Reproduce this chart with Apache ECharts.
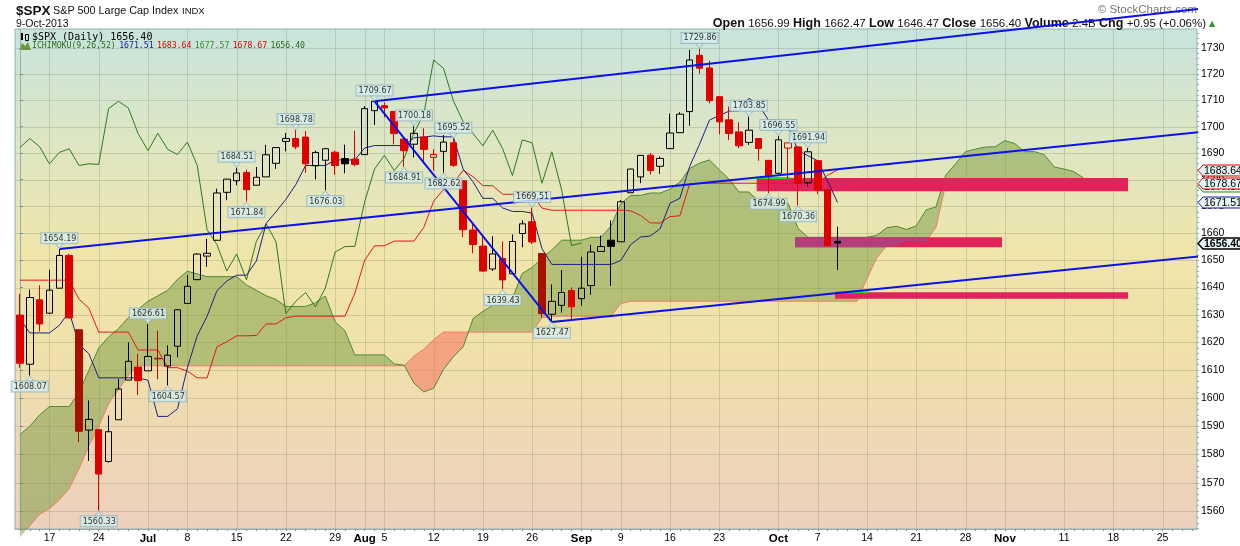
<!DOCTYPE html>
<html><head><meta charset="utf-8">
<script src="https://cdn.jsdelivr.net/npm/echarts@6/dist/echarts.min.js"></script>
<style>html,body{margin:0;padding:0;background:#fff}#c{width:1240px;height:546px}</style>
</head><body><div id="c"></div>
<script>
// ---------------- DATA ----------------
const holidays = ['2013-07-04', '2013-09-02', '2013-11-28'];
const prevClose = 1626.13;
const O = [1629.94,1612.15,1635.52,1630.64,1639.77,1651.83,1624.62,1588.62,1588.77,1577.52,
1592.27,1606.44,1611.12,1609.78,1614.29,1611.48,1618.65,1634.20,1642.89,1651.56,
1657.41,1675.26,1679.59,1682.70,1677.91,1681.05,1686.15,1694.41,1695.53,1696.06,
1685.21,1687.31,1690.32,1687.92,1687.76,1689.42,1706.10,1708.01,1705.79,1695.30,
1693.35,1696.10,1688.37,1690.65,1693.88,1679.61,1661.22,1655.25,1646.81,1650.66,
1645.03,1659.92,1664.29,1652.54,1630.25,1633.50,1638.89,1635.95,1640.72,1653.28,
1657.44,1656.85,1675.11,1681.04,1689.21,1685.04,1691.70,1697.73,1705.74,1727.34,
1722.44,1711.44,1702.60,1698.02,1694.05,1695.52,1687.26,1682.41,1691.90,1692.35,
1678.79,1687.15,1676.22,1656.99];
const H = [1637.71,1639.25,1640.80,1646.50,1654.19,1652.45,1624.62,1599.19,1588.77,1593.79,
1606.83,1620.07,1615.94,1626.61,1624.26,1618.97,1632.07,1644.68,1652.62,1657.92,
1676.63,1680.19,1684.51,1683.73,1684.75,1693.12,1692.09,1697.61,1698.78,1698.38,
1690.94,1691.85,1690.92,1693.19,1698.43,1707.85,1709.67,1709.24,1705.79,1695.30,
1700.18,1699.42,1691.49,1696.81,1695.52,1679.61,1663.60,1659.18,1658.92,1656.99,
1659.55,1664.85,1669.51,1652.54,1641.18,1646.41,1640.08,1651.35,1655.72,1659.17,
1664.83,1672.40,1684.09,1689.13,1689.97,1688.73,1704.95,1705.52,1729.44,1729.86,
1725.23,1711.44,1707.63,1701.71,1703.85,1695.52,1687.26,1696.55,1693.87,1692.35,
1691.94,1687.15,1676.79,1662.47];
const Lo = [1610.92,1608.07,1623.96,1630.34,1639.77,1628.91,1584.32,1577.70,1560.33,1577.09,
1592.27,1606.44,1601.06,1609.78,1606.77,1604.57,1614.71,1634.20,1642.89,1647.66,
1657.41,1672.33,1677.89,1671.84,1677.91,1681.05,1684.08,1690.67,1691.45,1682.57,
1680.07,1676.03,1681.86,1682.42,1684.94,1689.42,1700.68,1703.55,1693.29,1684.91,
1688.38,1686.02,1683.35,1682.62,1684.83,1658.59,1652.61,1645.84,1646.08,1639.43,
1645.03,1654.81,1656.02,1629.05,1627.47,1630.88,1628.05,1633.41,1637.41,1653.07,
1640.62,1656.85,1675.11,1678.70,1681.96,1682.22,1691.70,1697.73,1700.35,1720.20,
1708.89,1697.10,1694.90,1691.88,1693.11,1687.11,1674.99,1682.07,1680.34,1670.36,
1677.33,1674.70,1655.03,1646.47];
const C = [1612.52,1636.36,1626.73,1639.04,1651.81,1628.93,1588.19,1592.43,1573.09,1588.03,
1603.26,1613.20,1606.28,1614.96,1614.08,1615.41,1631.89,1640.46,1652.32,1652.62,
1675.02,1680.19,1682.50,1676.26,1680.91,1689.37,1692.09,1695.53,1692.39,1685.94,
1690.25,1691.65,1685.33,1685.96,1685.73,1706.87,1709.67,1707.14,1697.37,1690.91,
1697.48,1691.42,1689.47,1694.16,1685.39,1661.32,1655.83,1646.06,1652.35,1642.80,
1656.96,1663.50,1656.78,1630.48,1634.96,1638.17,1632.97,1639.77,1653.08,1655.08,
1655.17,1671.71,1683.99,1689.13,1683.42,1687.99,1697.60,1704.76,1725.52,1722.34,
1709.91,1701.84,1697.42,1692.77,1698.67,1691.75,1681.55,1695.00,1693.87,1678.66,
1690.50,1676.12,1655.45,1656.40];
const darkRed = [6, 14, 53];

const tenkan = [1628.61,1623.46,1623.46,1623.46,1626.21,1631.13,1619.26,1615.95,1607.26,1607.26,
1607.26,1607.26,1607.26,1606.39,1593.47,1593.47,1596.20,1610.89,1622.45,1629.49,
1638.85,1642.38,1644.54,1644.54,1649.73,1663.66,1668.01,1672.64,1678.10,1685.31,
1685.31,1685.31,1687.41,1687.41,1687.41,1691.94,1692.85,1692.85,1692.85,1692.85,
1695.77,1696.05,1696.51,1696.15,1696.15,1683.92,1679.20,1673.01,1673.01,1669.43,
1668.12,1668.12,1667.48,1654.33,1648.49,1648.49,1648.49,1648.49,1648.49,1648.49,
1648.49,1649.94,1655.78,1658.59,1659.01,1661.69,1671.18,1673.07,1685.03,1693.36,
1702.49,1704.28,1705.91,1706.04,1710.78,1708.49,1702.43,1702.43,1700.11,1690.90,
1689.00,1687.11,1679.44,1671.51];
const kijun = [1642.71,1642.71,1642.71,1642.71,1642.71,1642.71,1635.75,1632.44,1623.76,1623.76,
1623.76,1623.76,1617.27,1617.27,1617.27,1610.92,1610.92,1609.66,1607.26,1607.26,
1618.48,1620.26,1622.42,1622.42,1622.54,1626.73,1626.73,1628.97,1629.56,1629.56,
1629.56,1629.56,1629.56,1629.56,1637.94,1650.06,1655.37,1655.37,1657.12,1657.12,
1657.12,1662.19,1671.94,1676.28,1678.67,1683.54,1681.14,1677.76,1677.76,1674.55,
1674.55,1674.55,1674.55,1669.36,1668.57,1668.57,1668.57,1668.57,1668.57,1668.57,
1668.57,1668.57,1668.36,1666.63,1663.83,1663.83,1666.21,1666.50,1678.46,1678.67,
1678.67,1678.67,1678.67,1678.67,1678.67,1678.67,1678.67,1678.67,1678.67,1678.67,
1678.96,1678.96,1681.64,1683.64];
const spanA = [1587,1590,1594,1597,1597,1597,1602,1610,1618,1622,
1625,1629,1632,1635,1637,1639,1643,1646,1645,1644,
1644,1644,1644,1641,1639,1637,
1635.66,1633.09,1633.09,1633.09,1634.46,1636.92,1627.51,1624.20,1615.51,1615.51,
1615.51,1615.51,1612.27,1611.83,1605.37,1602.19,1603.55,1610.28,1614.86,1618.38,
1628.67,1631.32,1633.48,1633.48,1636.14,1645.20,1647.37,1650.81,1653.83,1657.44,
1657.44,1657.44,1658.49,1658.49,1662.68,1671.00,1674.11,1674.11,1674.99,1674.99,
1676.45,1679.12,1684.23,1686.22,1687.41,1683.73,1680.17,1675.39,1675.39,1671.99,
1671.34,1671.34,1671.02,1661.85,1658.53,1658.53,1658.53,1658.53,1658.53,1658.53,
1658.53,1659.26,1662.07,1662.61,1661.42,1662.76,1668.70,1669.79,1681.75,1686.02,
1690.58,1691.48,1692.29,1692.36,1694.73,1693.58,1690.55,1690.55,1689.39,1684.79,
1683.98,1683.04,1680.54,1677.58];
const spanB = [1551,1555,1559,1561,1564,1568,1575,1583,1590,1598,1603,1608,
1611.6,1611.6,1611.6,1611.6,1611.6,1611.6,1611.6,1611.6,1611.6,1611.6,
1611.6,1611.6,1611.6,1611.6,1611.6,1611.6,1611.6,1611.6,1611.6,1611.6,
1611.6,1611.6,1611.6,1611.6,1611.6,1611.6,1611.6,1611.6,
1615.0,1617.6,1621.0,
1623.76,1623.76,1623.76,1623.76,1623.76,1623.76,1623.76,1623.76,1623.76,1623.76,
1628.97,1629.56,1629.56,1629.56,1629.56,1629.56,1629.56,1629.56,1634.09,
1635.0,1635.0,1635.0,1635.0,1635.0,1635.0,1635.0,1635.0,1635.0,1635.0,1635.0,1635.0,
1635.0,1635.0,1635.0,1635.0,1635.0,1635.0,1635.0,1635.0,1635.0,1635.0,1635.0,1635.0,
1643.38,1650.97,1655.37,1655.37,1657.12,1657.12,1657.12,1662.19,1678.46,
1678.67,1678.67,1678.67,1678.67,1678.67,1678.67,1678.67,1678.67,1678.67,1678.67,
1678.67,1678.67,1678.67,1678.67,1678.67];
const chikouShift = 26;

const hiLabels = [[4,1654.19],[13,1626.61],[22,1684.51],[28,1698.78],[36,1709.67],[40,1700.18],
  [44,1695.52],[52,1669.51],[69,1729.86],[74,1703.85],[77,1696.55],[80,1691.94]];
const loLabels = [[1,1608.07],[8,1560.33],[15,1604.57],[23,1671.84],[31,1676.03],[39,1684.91],
  [43,1682.62],[49,1639.43],[54,1627.47],[76,1674.99],[79,1670.36]];

// trend lines: [[idx, price], [idx, price]]
const trendLines = [
  [[36, 1709.67], [123.9, 1747.1]],
  [[4, 1654.19], [123.9, 1699.5]],
  [[54, 1627.47], [123.9, 1653.0]],
  [[36, 1709.67], [54, 1627.47]]
];
// zones: [startIdx, endIdx, low, high, tintWhereOverCloud]
const zones = [[74.8, 112.5, 1675.7, 1680.6, false], [78.7, 99.7, 1654.8, 1658.5, true], [82.75, 112.5, 1635.9, 1638.3, false]];
const zoneEdges = [[74.8, 78.2, 1680.6], [82.75, 86.2, 1638.3]];

const tagVals = [1677.57, 1683.64, 1678.67, 1671.51, 1656.40];
const tagColors = ['#2a8a2a', '#e00000', '#e00000', '#1a1aa0', '#000000'];

const yTicks = [1560,1570,1580,1590,1600,1610,1620,1630,1640,1650,1660,1670,1680,1690,1700,1710,1720,1730];
const yMinor = [];
for (let v = 1554; v <= 1736; v += 2) yMinor.push(v);
const xTickIdx = [3,8,13,17,22,27,32,35,37,42,47,52,57,61,66,71,77,81,86,91,96,100,106,111,116];
const xTickText = ['17','24','Jul','8','15','22','29','Aug','5','12','19','26','Sep','9','16','23','Oct','7','14','21','28','Nov','11','18','25'];
const monthLabels = ['Jul','Aug','Sep','Oct','Nov'];

// ---------------- BUILD ----------------
const L = Math.log;
const categories = [];
for (let d = new Date(Date.UTC(2013, 5, 12)); categories.length < 120; d.setUTCDate(d.getUTCDate() + 1)) {
  const wd = d.getUTCDay(); const s = d.toISOString().slice(0, 10);
  if (wd === 0 || wd === 6 || holidays.includes(s)) continue;
  categories.push(s);
}
const tickMap = {};
xTickIdx.forEach((i, k) => tickMap[i] = xTickText[k]);

const candleData = O.map((o, i) => {
  const c = C[i];
  const pc = i === 0 ? prevClose : C[i - 1];
  const col = c >= pc ? '#000000' : (darkRed.includes(i) ? '#a81000' : '#e00000');
  const fill = c > o ? 'rgba(0,0,0,0)' : col;
  return {
    value: [L(o), L(c), L(Lo[i]), L(H[i])],
    itemStyle: { color: fill, color0: fill, borderColor: col, borderColor0: col, borderColorDoji: col, borderWidth: 1 }
  };
});
const lineOf = arr => arr.map(v => v == null ? null : L(v));
const chikou = C.slice(chikouShift).map(v => L(v));

const spanAL = spanA.map(L), spanBL = spanB.map(L);
function interp(arr, x) {
  const i = Math.max(0, Math.min(arr.length - 2, Math.floor(x)));
  const t = x - i;
  return arr[i] + (arr[i + 1] - arr[i]) * t;
}

const gridLineColor = 'rgba(90,110,90,0.22)';
function gridRender(params, api) {
  if (params.dataIndex !== 0) return;
  const cs = params.coordSys;
  const kids = [];
  yTicks.forEach(v => {
    const y = Math.round(api.coord([0, L(v)])[1]) + 0.5;
    kids.push({ type: 'line', shape: { x1: cs.x, y1: y, x2: cs.x + cs.width, y2: y }, style: { stroke: gridLineColor, lineWidth: 1 } });
  });
  xTickIdx.forEach(i => {
    const x = Math.round(api.coord([i, L(1600)])[0]) + 0.5;
    kids.push({ type: 'line', shape: { x1: x, y1: cs.y, x2: x, y2: cs.y + cs.height }, style: { stroke: gridLineColor, lineWidth: 1 } });
  });
  return { type: 'group', children: kids };
}

function cloudRender(params, api) {
  if (params.dataIndex !== 0) return;
  const A = spanAL, B = spanBL;
  const regions = [];
  let cur = [{ x: 0, a: A[0], b: B[0] }];
  for (let j = 0; j < A.length - 1; j++) {
    const d0 = A[j] - B[j], d1 = A[j + 1] - B[j + 1];
    if (d0 * d1 < 0) {
      const t = d0 / (d0 - d1);
      const y = A[j] + t * (A[j + 1] - A[j]);
      cur.push({ x: j + t, a: y, b: y });
      regions.push({ sign: Math.sign(d0), pts: cur });
      cur = [{ x: j + t, a: y, b: y }];
    }
    cur.push({ x: j + 1, a: A[j + 1], b: B[j + 1] });
  }
  regions.push({ sign: Math.sign(A[A.length - 1] - B[B.length - 1]) || 1, pts: cur });
  const children = regions.map(r => {
    const top = r.pts.map(p => api.coord([p.x, p.a]));
    const bot = r.pts.slice().reverse().map(p => api.coord([p.x, p.b]));
    return { type: 'polygon', shape: { points: top.concat(bot) },
      style: { fill: r.sign >= 0 ? 'rgba(112,150,58,0.47)' : 'rgba(246,120,96,0.58)' } };
  });
  return { type: 'group', children };
}

function zoneRender(params, api) {
  if (params.dataIndex !== 0) return;
  const kids = [];
  zones.forEach(z => {
    const lo = L(z[2]), hi = L(z[3]);
    const p0 = api.coord([z[0], hi]), p1 = api.coord([z[1], lo]);
    kids.push({ type: 'rect', shape: { x: p0[0], y: p0[1], width: p1[0] - p0[0], height: p1[1] - p0[1] },
      style: { fill: '#e2225a' } });
    if (z[4]) {
      // part of the zone that lies inside the (green) cloud
      let run = null; const runs = [];
      for (let x = z[0]; x <= z[1] + 1e-9; x += 0.05) {
        const a = interp(spanAL, x), b = interp(spanBL, x);
        const top = Math.min(hi, Math.max(a, b)), bot = Math.max(lo, Math.min(a, b));
        if (top > bot && a > b) {
          if (!run) { run = []; runs.push(run); }
          run.push([x, top, bot]);
        } else run = null;
      }
      runs.forEach(r => {
        const pts = r.map(p => api.coord([p[0], p[1]])).concat(r.slice().reverse().map(p => api.coord([p[0], p[2]])));
        kids.push({ type: 'polygon', shape: { points: pts }, style: { fill: '#b23e7c' } });
      });
    }
  });
  zoneEdges.forEach(e => {
    const p0 = api.coord([e[0], L(e[2])]), p1 = api.coord([e[1], L(e[2])]);
    kids.push({ type: 'line', shape: { x1: p0[0], y1: p0[1], x2: p1[0], y2: p1[1] }, style: { stroke: '#22dd22', lineWidth: 2 } });
  });
  return { type: 'group', children: kids };
}

function tagRender(params, api) {
  const i = params.dataIndex;
  const p = api.coord([119.5, L(tagVals[i])]);
  const x = p[0] + 1, y = Math.round(p[1]) + 0.5;
  const w = 43, h = 11;
  const bold = i === 4;
  return { type: 'group', children: [
    { type: 'polygon', shape: { points: [[x, y], [x + 5, y - h / 2], [x + w, y - h / 2], [x + w, y + h / 2], [x + 5, y + h / 2]] },
      style: { fill: bold ? '#e6f6f6' : '#e4f4f4', stroke: tagColors[i], lineWidth: bold ? 1.5 : 1 } },
    { type: 'text', style: { text: tagVals[i].toFixed(2), x: x + 6, y: y + 0.5, verticalAlign: 'middle', fontSize: 10.5,
      fontFamily: 'Liberation Sans', fontWeight: bold ? 'bold' : 'normal', fill: '#000' } }
  ] };
}

const labelStyle = {
  show: true, formatter: '{b}', fontSize: 8, fontFamily: 'DejaVu Sans', color: '#000',
  backgroundColor: '#d6eeee', borderColor: '#93b4bc', borderWidth: 1, padding: [1, 1, 0, 2], lineHeight: 9, distance: 0
};

const bg = new echarts.graphic.LinearGradient(0, 0, 0, 1, [
  { offset: 0, color: '#c8e4dc' }, { offset: 0.22, color: '#dde6c4' }, { offset: 0.45, color: '#efe5aa' },
  { offset: 0.62, color: '#f0e2aa' }, { offset: 1, color: '#ecd0bd' }
]);

const series = [
  { type: 'custom', name: 'grid', xAxisIndex: 1, yAxisIndex: 0, renderItem: gridRender, data: [[0, L(1600)]], z: 1, silent: true },
  { type: 'custom', name: 'cloud', xAxisIndex: 1, yAxisIndex: 0, renderItem: cloudRender, data: [[0, L(1600)]], z: 2, silent: true },
  { type: 'line', name: 'spanB', xAxisIndex: 0, data: lineOf(spanB), symbol: 'none', lineStyle: { color: '#f27a66', width: 1 }, z: 3 },
  { type: 'line', name: 'spanA', xAxisIndex: 0, data: lineOf(spanA), symbol: 'none', lineStyle: { color: '#4e8a34', width: 1 }, z: 3 },
  { type: 'custom', name: 'zones', xAxisIndex: 1, yAxisIndex: 0, renderItem: zoneRender, data: [[0, L(1600)]], z: 4, silent: true },
  { type: 'line', name: 'chikou', xAxisIndex: 0, data: chikou, symbol: 'none', lineStyle: { color: '#2c7a22', width: 1 }, z: 5 },
  { type: 'line', name: 'kijun', xAxisIndex: 0, data: lineOf(kijun), symbol: 'none', lineStyle: { color: '#e81818', width: 1 }, z: 5 },
  { type: 'line', name: 'tenkan', xAxisIndex: 0, data: lineOf(tenkan), symbol: 'none', lineStyle: { color: '#1e1e8c', width: 1 }, z: 5 },
  { type: 'candlestick', name: 'SPX', xAxisIndex: 0, data: candleData, barWidth: 7, z: 6 }
];
trendLines.forEach((t, k) => series.push({
  type: 'line', name: 'trend' + k, xAxisIndex: 1, yAxisIndex: 0, clip: false, symbol: 'none',
  data: t.map(p => [p[0], L(p[1])]), lineStyle: { color: '#0a10f0', width: 2 }, z: 7
}));
series.push({
  type: 'scatter', name: 'hiLab', xAxisIndex: 1, yAxisIndex: 0, z: 8,
  data: hiLabels.map(([i, v]) => ({ name: v.toFixed(2), value: [i, L(v)] })),
  symbol: 'path://M0,0L10,0L5,6Z', symbolSize: [8, 5], symbolOffset: [0, -3],
  itemStyle: { color: '#d6eeee', borderColor: '#93b4bc', borderWidth: 0.8 },
  label: Object.assign({}, labelStyle, { position: 'top' })
});
series.push({
  type: 'scatter', name: 'loLab', xAxisIndex: 1, yAxisIndex: 0, z: 8,
  data: loLabels.map(([i, v]) => ({ name: v.toFixed(2), value: [i, L(v)] })),
  symbol: 'path://M5,0L10,6L0,6Z', symbolSize: [8, 5], symbolOffset: [0, 3],
  itemStyle: { color: '#d6eeee', borderColor: '#93b4bc', borderWidth: 0.8 },
  label: Object.assign({}, labelStyle, { position: 'bottom' })
});
series.push({
  type: 'custom', name: 'tags', xAxisIndex: 1, yAxisIndex: 0, renderItem: tagRender, clip: false, z: 20, silent: true,
  data: tagVals.map((v, i) => [119.5, L(v)])
});

const axisCol = '#8fb3b3';
const option = {
  animation: false,
  grid: { left: 15, right: 43, top: 29, bottom: 17, show: true, backgroundColor: bg, borderColor: axisCol, borderWidth: 1 },
  xAxis: [
    { type: 'category', data: categories, boundaryGap: true,
      axisLine: { show: true, lineStyle: { color: axisCol } },
      axisTick: { show: true, interval: 0, length: 2, alignWithLabel: true, lineStyle: { color: '#6f9a9a' } },
      axisLabel: { interval: (idx) => tickMap[idx] !== undefined, margin: 4,
        formatter: (val, idx) => { const t = tickMap[idx]; if (t === undefined) return ''; return monthLabels.includes(t) ? '{m|' + t + '}' : '{d|' + t + '}'; },
        rich: { m: { fontWeight: 'bold', fontSize: 11.5, fontFamily: 'Liberation Sans', color: '#000' },
                d: { fontSize: 10.5, fontFamily: 'Liberation Sans', color: '#000' } } },
      splitLine: { show: false } },
    { type: 'value', min: -0.5, max: 119.5, show: false }
  ],
  yAxis: [
    { type: 'value', position: 'right', min: L(1553.9), max: L(1737.5), scale: true,
      axisLine: { show: true, lineStyle: { color: axisCol } },
      axisTick: { show: true, length: 3, customValues: yTicks.map(L), lineStyle: { color: '#6f9a9a' } },
      axisLabel: { customValues: yTicks.map(L), formatter: v => String(Math.round(Math.exp(v))), margin: 4,
        fontSize: 10.5, fontFamily: 'Liberation Sans', color: '#000' },
      splitLine: { show: false } },
    { type: 'value', position: 'right', min: L(1553.9), max: L(1737.5), scale: true,
      axisLine: { show: false }, axisLabel: { show: false }, splitLine: { show: false },
      axisTick: { show: true, length: 2, customValues: yMinor.map(L), lineStyle: { color: '#8fb3b3' } } }
  ],
  graphic: [
    { type: 'text', x: 16, y: 11, style: { text: '$SPX', fontSize: 13.5, fontWeight: 'bold', fontFamily: 'Liberation Sans', fill: '#111', verticalAlign: 'middle' } },
    { type: 'text', x: 53, y: 11, style: { text: 'S&P 500 Large Cap Index', fontSize: 10.8, fontFamily: 'Liberation Sans', fill: '#111', verticalAlign: 'middle' } },
    { type: 'text', x: 182, y: 11.5, style: { text: 'INDX', fontSize: 9.5, fontFamily: 'Liberation Sans', fill: '#111', verticalAlign: 'middle' } },
    { type: 'text', x: 16, y: 24, style: { text: '9-Oct-2013', fontSize: 10.5, fontFamily: 'Liberation Sans', fill: '#111', verticalAlign: 'middle' } },
    { type: 'text', x: 1197, y: 10, style: { text: '\u00a9 StockCharts.com', fontSize: 11.5, fontFamily: 'Liberation Sans', fill: '#777', align: 'right', verticalAlign: 'middle' } },
    { type: 'text', x: 1206, y: 24, style: { align: 'right', verticalAlign: 'middle',
      text: '{b|Open} {n|1656.99} {b|High} {n|1662.47} {b|Low} {n|1646.47} {b|Close} {n|1656.40} {b|Volume} {n|2.4B} {b|Chg} {n|+0.95 (+0.06%)}',
      rich: { b: { fontWeight: 'bold', fontSize: 12.5, fontFamily: 'Liberation Sans', fill: '#111' },
              n: { fontSize: 11.5, fontFamily: 'Liberation Sans', fill: '#111' } } } },
    { type: 'text', x: 1209, y: 24, style: { text: '\u25b2', fontSize: 8, fontFamily: 'DejaVu Sans', fill: '#2a9a2a', verticalAlign: 'middle' } },
    // legend
    { type: 'rect', shape: { x: 20, y: 33, width: 3, height: 7 }, style: { fill: '#000' } },
    { type: 'rect', shape: { x: 25.5, y: 34.5, width: 3, height: 6 }, style: { fill: 'none', stroke: '#000', lineWidth: 1 } },
    { type: 'text', x: 32, y: 37, style: { text: '$SPX (Daily) 1656.40', fontSize: 10, fontFamily: 'DejaVu Sans Mono', fill: '#000', verticalAlign: 'middle' } },
    { type: 'polygon', shape: { points: [[19, 50], [22, 43], [25, 46], [28, 42], [31, 50]] }, style: { fill: '#6c9a3c' } },
    { type: 'text', x: 32, y: 46, style: { verticalAlign: 'middle',
      text: '{g|ICHIMOKU(9,26,52)} {b|1671.51} {r|1683.64} {g2|1677.57} {r|1678.67} {g|1656.40}',
      rich: { g: { fill: '#2a6a1a', fontSize: 8.2, fontFamily: 'DejaVu Sans Mono' }, g2: { fill: '#3a8a2a', fontSize: 8.2, fontFamily: 'DejaVu Sans Mono' },
              b: { fill: '#1a1aa0', fontSize: 8.2, fontFamily: 'DejaVu Sans Mono' }, r: { fill: '#e00000', fontSize: 8.2, fontFamily: 'DejaVu Sans Mono' } } } }
  ],
  series
};
const chart = echarts.init(document.getElementById('c'), null, { renderer: 'canvas' });
chart.setOption(option);
</script>
</body></html>
